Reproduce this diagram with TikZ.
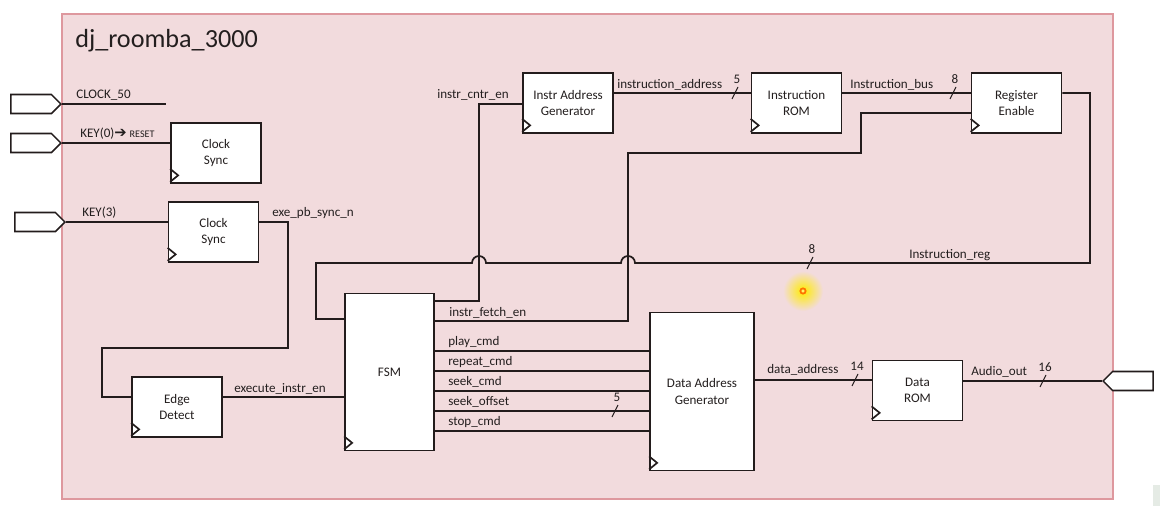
\documentclass[tikz,border=0pt]{standalone}
\usepackage{fontspec}
\setmainfont{Carlito}
\newfontfamily\dejavu{DejaVu Sans}
\usetikzlibrary{shapes.symbols}

\definecolor{roombapink}{RGB}{242,219,221}
\definecolor{roombaedge}{RGB}{222,152,158}
\definecolor{wirecol}{RGB}{35,28,28}
\definecolor{txtcol}{RGB}{35,30,30}

\begin{document}
\begin{tikzpicture}[yscale=-1, x=0.025cm, y=0.025cm,
    blk/.style={draw=wirecol, fill=white, line width=1.2pt, inner sep=0pt, align=center,
        text=txtcol, minimum width=2.25cm, minimum height=1.5cm,
        font=\fontsize{9.3}{11.4}\selectfont},
    port/.style={signal, draw=wirecol, fill=white, line width=1.1pt, inner sep=0pt,
        minimum width=1.25cm, minimum height=0.475cm},
    wire/.style={draw=wirecol, line width=1.2pt},
    sig/.style={anchor=base west, inner sep=0pt, text=txtcol, font=\fontsize{9.3}{11}\selectfont},
    buswd/.style={anchor=base, inner sep=0pt, text=txtcol, font=\fontsize{9.3}{11}\selectfont},
    slash/.style={draw=wirecol, line width=0.7pt}]
    \useasboundingbox (0,0) rectangle (1160,506);

    % top level frame
    \draw [fill=roombapink, draw=roombaedge, line width=0.9pt] (62,14) rectangle (1113,499);
    \node [anchor=base west, inner sep=0pt, text=txtcol, font=\fontsize{18.6}{20}\selectfont] (title) at (75,48) {dj\_roomba\_3000};
    \fill [green!12!gray!18] (1153,485) rectangle (1160,506);

    % pins
    \node [port, signal to=east, anchor=east] (pclk) at (62,104) {};
    \node [port, signal to=east, anchor=east] (pkey0) at (62,143) {};
    \node [port, signal to=east, anchor=east] (pkey3) at (66,222) {};
    \node [port, signal to=west, anchor=west] (paudio) at (1102,381) {};

    % blocks
    \node [blk] (cs1) at (216,153) {Clock\\Sync};
    \node [blk] (cs2) at (213.5,232) {Clock\\Sync};
    \node [blk] (ed) at (177,407) {Edge\\Detect};
    \node [blk, minimum width=2.225cm, minimum height=3.925cm] (fsm) at (389.5,372) {FSM};
    \node [blk] (iag) at (568,103) {Instr Address\\Generator};
    \node [blk] (irom) at (796.5,103) {Instruction\\ROM};
    \node [blk] (re) at (1016.5,103) {Register\\Enable};
    \node [blk, minimum width=2.6cm, minimum height=3.95cm] (dag) at (702,391.5) {Data Address\\Generator};
    \node [blk] (drom) at (917.5,390.5) {Data\\ROM};
    \foreach \b in {cs1,cs2,ed,fsm,iag,irom,re,dag,drom}
        \draw [wire] ([shift={(0,-2)}]\b.south west) -- ++(8,-6.5) -- ++(-8,-6.5);

    % wires
    \coordinate (clkend) at (166,104);
    \draw [wire] (pclk.east) -- (clkend);
    \draw [wire] (pkey0.east) -- (pkey0.east -| cs1.west);
    \draw [wire] (pkey3.east) -- (pkey3.east -| cs2.west);
    \draw [wire] (pkey3.east -| cs2.east) -- (288,222) -- (288,348) -- (102,348) -- (102,397) -- (ed.west |- 0,397);
    \draw [wire] (ed.east |- 0,397) -- (fsm.west |- 0,397);
    \draw [wire] (fsm.east |- 0,301) -- (479,301) -- (479,104) -- (iag.west |- 0,104);
    \draw [wire] (fsm.east |- 0,321) -- (628,321) -- (628,153) -- (861,153) -- (861,113) -- (re.west |- 0,113);
    \draw [wire] (re.east |- 0,93) -- (1090,93) -- (1090,263) -- (635,263)
        arc [start angle=0, end angle=-180, radius=7] -- (486,263)
        arc [start angle=0, end angle=-180, radius=7] -- (316,263) -- (316,319) -- (fsm.west |- 0,319);
    \draw [wire] (iag.east |- 0,93) -- (irom.west |- 0,93);
    \draw [wire] (irom.east |- 0,93) -- (re.west |- 0,93);
    \foreach \y in {351,371,...,431}
        \draw [wire] (fsm.east |- 0,\y) -- (dag.west |- 0,\y);
    \draw [wire] (dag.east |- 0,380) -- (drom.west |- 0,380);
    \draw [wire] (drom.east |- 0,381) -- (paudio.west);

    % signal names
    \node [sig] (lclk) at (76,98) {CLOCK\_50};
    \node [sig] (lkey0) at (80,137) {KEY(0){\dejavu\fontsize{10.5}{10}\selectfont ➔} {\fontsize{7.2}{7}\selectfont RESET}};
    \node [sig] (lkey3) at (82,216) {KEY(3)};
    \node [sig] (lexe) at (272,216) {exe\_pb\_sync\_n};
    \node [sig] (lexec) at (234,392) {execute\_instr\_en};
    \node [sig] (lcntr) at (437,98) {instr\_cntr\_en};
    \node [sig] (laddr) at (617,88) {instruction\_address};
    \node [sig] (lbus) at (850,88) {Instruction\_bus};
    \node [sig] (lreg) at (909,258) {Instruction\_reg};
    \node [sig] (lfetch) at (449,316) {instr\_fetch\_en};
    \foreach \t [count=\i from 0] in {play\_cmd, repeat\_cmd, seek\_cmd, seek\_offset, stop\_cmd}
        \node [sig] (lcmd\i) at (448,345+20*\i) {\t};
    \node [sig] (ldata) at (767,373) {data\_address};
    \node [sig] (laudio) at (971,375) {Audio\_out};

    % bus widths
    \foreach \x/\y/\w [count=\i] in {735/93/5, 953/93/8, 810/263/8, 615/411/5, 855/380/14, 1043/381/16} {
        \draw [slash] (\x-3,\y+6) -- (\x+3,\y-6);
        \node [buswd] (bw\i) at (\x+2,\y-10) {\w};
    }

    % pointer
    \shade [inner color=yellow!85!orange, outer color=roombapink] (803,291) circle [radius=20];
    \draw [orange!90!red, line width=1.3pt, fill=yellow!60] (803,291) circle [radius=2.6];
\end{tikzpicture}
\end{document}
